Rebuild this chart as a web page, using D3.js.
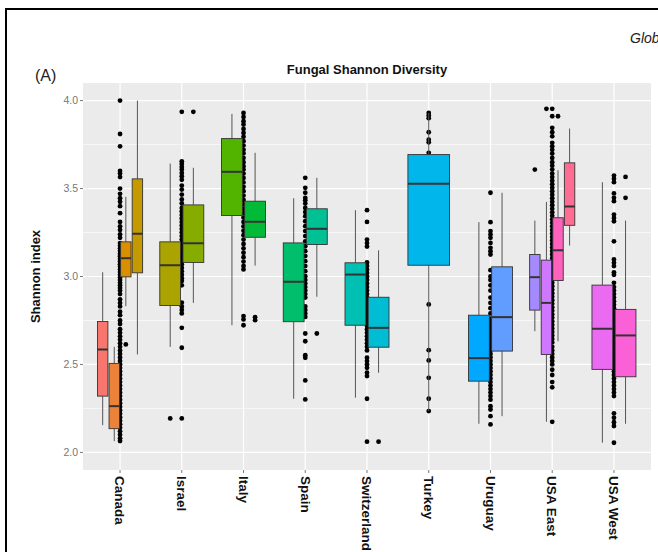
<!DOCTYPE html>
<html>
<head>
<meta charset="utf-8">
<title>Fungal Shannon Diversity</title>
<style>
body { margin: 0; background: #fff; }
svg { display: block; font-family: "Liberation Sans", Arial, sans-serif; }
</style>
</head>
<body>
<script src="https://cdn.jsdelivr.net/npm/d3@7"></script>
<script>

// categories on the x axis
const countries = ["Canada", "Israel", "Italy", "Spain", "Switzerland", "Turkey", "Uruguay", "USA East", "USA West"];
const yTicks = [2.0, 2.5, 3.0, 3.5, 4.0];
const yMinor = [2.25, 2.75, 3.25, 3.75];

// one entry per box: country it sits in, [lower whisker, q1, median, q3, upper whisker], outliers
const boxCountry = ["Canada", "Canada", "Canada", "Canada", "Israel", "Israel", "Italy", "Italy", "Spain", "Spain",
  "Switzerland", "Switzerland", "Turkey", "Uruguay", "Uruguay", "USA East", "USA East", "USA East", "USA East", "USA West", "USA West"];
const boxStats = [
  [2.155, 2.320, 2.585, 2.744, 3.024],
  [2.064, 2.135, 2.263, 2.506, 2.600],
  [2.831, 2.998, 3.104, 3.197, 3.453],
  [2.557, 3.021, 3.243, 3.555, 4.000],
  [2.600, 2.835, 3.064, 3.197, 3.642],
  [2.850, 3.080, 3.189, 3.407, 3.618],
  [2.723, 3.347, 3.595, 3.784, 3.924],
  [3.062, 3.223, 3.311, 3.428, 3.703],
  [2.305, 2.743, 2.970, 3.191, 3.445],
  [2.885, 3.182, 3.271, 3.385, 3.561],
  [2.311, 2.723, 3.011, 3.078, 3.377],
  [2.453, 2.598, 2.708, 2.882, 3.149],
  [2.235, 3.064, 3.527, 3.693, 3.930],
  [2.163, 2.405, 2.536, 2.780, 3.309],
  [2.206, 2.576, 2.769, 3.055, 3.476],
  [2.689, 2.809, 2.996, 3.125, 3.318],
  [2.174, 2.557, 2.850, 3.093, 3.424],
  [2.632, 2.977, 3.149, 3.334, 3.604],
  [3.176, 3.291, 3.398, 3.646, 3.841],
  [2.055, 2.472, 2.703, 2.951, 3.536],
  [2.163, 2.430, 2.665, 2.813, 3.318]
];
const boxOutliers = [
  [], [], [2.614], [],
  [2.193], [3.936],
  [], [2.769, 2.752],
  [], [2.676],
  [], [2.061],
  [],
  [], [],
  [3.608], [3.953], [3.911], [],
  [], [3.566, 3.447]
];

// all samples, plotted at the country position
const canadaPts = [4.00, 3.81, 3.74, 3.60, 3.585, 3.565, 3.50, 3.47, 3.445, 3.425, 3.40, 3.36, 3.31, 3.285, 3.265, 3.24, 3.22,
  3.19, 3.175, 3.16, 3.145, 3.13, 3.115, 3.10, 3.085, 3.07, 3.055, 3.04, 3.025, 3.01, 2.995, 2.98, 2.965, 2.95, 2.935, 2.92,
  2.90, 2.87, 2.85, 2.83, 2.80, 2.78, 2.75, 2.73, 2.70, 2.68, 2.66, 2.64, 2.62, 2.60, 2.58, 2.56, 2.54, 2.52, 2.50, 2.48,
  2.46, 2.44, 2.42, 2.40, 2.38, 2.36, 2.34, 2.32, 2.30, 2.28, 2.26, 2.24, 2.22, 2.20, 2.18, 2.16, 2.14, 2.12, 2.10, 2.08, 2.065];
const israelPts = [3.936, 3.655, 3.64, 3.623, 3.608, 3.589, 3.57, 3.55, 3.517, 3.494, 3.466, 3.438, 3.415, 3.39, 3.37, 3.35,
  3.33, 3.31, 3.29, 3.27, 3.25, 3.23, 3.21, 3.19, 3.17, 3.15, 3.13, 3.11, 3.09, 3.07, 3.05, 3.03, 3.01, 2.99, 2.975, 2.95,
  2.852, 2.83, 2.81, 2.79, 2.708, 2.595, 2.193];
const italyPts = [3.93, 3.907, 3.883, 3.864, 3.839, 3.816, 3.794, 3.769, 3.744, 3.72, 3.70, 3.674, 3.65, 3.627, 3.608, 3.585,
  3.56, 3.535, 3.51, 3.485, 3.46, 3.435, 3.41, 3.385, 3.36, 3.335, 3.31, 3.285, 3.26, 3.235, 3.21, 3.185, 3.16, 3.135, 3.11,
  3.085, 3.06, 3.04, 2.775, 2.756, 2.723];
const spainPts = [3.561, 3.504, 3.476, 3.447, 3.434, 3.415, 3.39, 3.366, 3.343, 3.314, 3.286, 3.258, 3.23, 3.20, 3.172, 3.144,
  3.116, 3.087, 3.059, 3.03, 3.002, 2.98, 2.96, 2.94, 2.92, 2.90, 2.88, 2.83, 2.81, 2.79, 2.77, 2.676, 2.632, 2.553, 2.538,
  2.409, 2.301];
const switzPts = [3.377, 3.31, 3.21, 3.19, 3.17, 3.08, 3.06, 3.04, 3.02, 3.00, 2.98, 2.96, 2.94, 2.92, 2.90, 2.88, 2.86, 2.84,
  2.82, 2.80, 2.78, 2.76, 2.74, 2.72, 2.70, 2.68, 2.66, 2.64, 2.62, 2.60, 2.58, 2.538, 2.519, 2.50, 2.481, 2.453, 2.434,
  2.305, 2.061];
const turkeyPts = [3.93, 3.915, 3.90, 3.82, 3.778, 3.763, 3.703, 2.841, 2.581, 2.523, 2.424, 2.305, 2.235];
const uruguayPts = [3.476, 3.309, 3.258, 3.239, 3.22, 3.191, 3.163, 3.144, 3.125, 3.036, 3.00, 2.98, 2.95, 2.92, 2.88, 2.85,
  2.82, 2.79, 2.76, 2.74, 2.72, 2.70, 2.68, 2.66, 2.64, 2.62, 2.60, 2.58, 2.56, 2.54, 2.52, 2.50, 2.48, 2.46, 2.44, 2.42,
  2.40, 2.38, 2.36, 2.34, 2.32, 2.30, 2.263, 2.244, 2.206, 2.159];
const usaEastPts = [3.953, 3.911, 3.845, 3.82, 3.797, 3.76, 3.74, 3.72, 3.699, 3.674, 3.65, 3.63, 3.608, 3.585, 3.565, 3.545,
  3.525, 3.505, 3.485, 3.465, 3.445, 3.425, 3.405, 3.385, 3.365, 3.345, 3.325, 3.305, 3.285, 3.265, 3.245, 3.225, 3.205,
  3.185, 3.165, 3.145, 3.125, 3.105, 3.085, 3.065, 3.045, 3.025, 3.005, 2.985, 2.965, 2.945, 2.925, 2.905, 2.885, 2.865,
  2.845, 2.825, 2.805, 2.785, 2.765, 2.745, 2.725, 2.705, 2.685, 2.665, 2.645, 2.625, 2.60, 2.58, 2.56, 2.54, 2.52, 2.50,
  2.47, 2.44, 2.40, 2.37, 2.174];
const usaWestPts = [3.574, 3.555, 3.536, 3.472, 3.447, 3.428, 3.352, 3.333, 3.314, 3.20, 3.097, 3.078, 3.059, 3.024, 3.01,
  2.964, 2.94, 2.92, 2.90, 2.88, 2.86, 2.84, 2.82, 2.80, 2.78, 2.76, 2.74, 2.72, 2.70, 2.68, 2.66, 2.64, 2.62, 2.60, 2.58,
  2.56, 2.54, 2.52, 2.50, 2.48, 2.46, 2.44, 2.42, 2.40, 2.38, 2.36, 2.34, 2.32, 2.222, 2.197, 2.172, 2.15, 2.055];
const pointsByCountry = [canadaPts, israelPts, italyPts, spainPts, switzPts, turkeyPts, uruguayPts, usaEastPts, usaWestPts];

// ggplot hue fills, one per box
const boxFill = ["#F8766D", "#EC823A", "#DA8F00", "#C49A00", "#ABA300", "#86AC00", "#53B400", "#00BA38", "#00BE6C",
  "#00C094", "#00C0B4", "#00BDD4", "#00B6EB", "#00A9FF", "#619CFF", "#A58AFF", "#CF78FF", "#FF62BC", "#FF6C93",
  "#EA6AF1", "#FB61D7"];

const width = 658, height = 552;
const panel = { left: 83, right: 651, top: 83, bottom: 470 };

const svg = d3.select("body").append("svg")
  .attr("width", width)
  .attr("height", height);

svg.append("rect").attr("width", width).attr("height", height).attr("fill", "#fff");

// outer frame of the figure page
svg.append("path")
  .attr("d", `M6,${height + 2}V9H${width + 2}`)
  .attr("fill", "none")
  .attr("stroke", "#000")
  .attr("stroke-width", 2);

svg.append("text")
  .attr("x", 630).attr("y", 43)
  .style("font-size", "14px")
  .style("font-style", "italic")
  .attr("fill", "#222")
  .text("Global");

svg.append("text")
  .attr("x", 35).attr("y", 81)
  .style("font-size", "16px")
  .attr("fill", "#222")
  .text("(A)");

const x = d3.scalePoint()
  .domain(countries)
  .range([panel.left, panel.right])
  .padding(0.6);

const y = d3.scaleLinear()
  .domain([1.9, 4.1])
  .range([panel.bottom, panel.top]);

// panel + grid
svg.append("rect")
  .attr("x", panel.left).attr("y", panel.top)
  .attr("width", panel.right - panel.left)
  .attr("height", panel.bottom - panel.top)
  .attr("fill", "#EBEBEB");

svg.append("g").selectAll("line")
  .data(yMinor)
  .join("line")
  .attr("x1", panel.left).attr("x2", panel.right)
  .attr("y1", d => y(d)).attr("y2", d => y(d))
  .attr("stroke", "#fff").attr("stroke-width", 0.6);

svg.append("g").selectAll("line")
  .data(yTicks)
  .join("line")
  .attr("x1", panel.left).attr("x2", panel.right)
  .attr("y1", d => y(d)).attr("y2", d => y(d))
  .attr("stroke", "#fff").attr("stroke-width", 1.2);

svg.append("g").selectAll("line")
  .data(countries)
  .join("line")
  .attr("x1", d => x(d)).attr("x2", d => x(d))
  .attr("y1", panel.top).attr("y2", panel.bottom)
  .attr("stroke", "#fff").attr("stroke-width", 1.2);

// every sample at the country centre (drawn under the boxes)
const pointData = [];
pointsByCountry.forEach((vals, i) => vals.forEach(v => pointData.push({ c: countries[i], v: v })));

svg.append("g").selectAll("circle")
  .data(pointData)
  .join("circle")
  .attr("cx", d => x(d.c))
  .attr("cy", d => y(d.v))
  .attr("r", 2.4)
  .attr("fill", "#000");

// dodge boxes inside each country (like position_dodge2, padding 0.1)
const step = x.step();
const groupTotal = 0.75 * step;
const boxes = boxStats.map((s, i) => {
  const c = boxCountry[i];
  const members = boxCountry.map((cc, j) => cc === c ? j : -1).filter(j => j >= 0);
  const n = members.length, k = members.indexOf(i);
  const slot = groupTotal / n;
  const cx = x(c) - groupTotal / 2 + slot * (k + 0.5);
  return { stats: s, cx: cx, w: slot * 0.9, fill: boxFill[i], out: boxOutliers[i] };
});

const boxG = svg.append("g").selectAll("g")
  .data(boxes)
  .join("g");

boxG.append("line")
  .attr("x1", d => d.cx).attr("x2", d => d.cx)
  .attr("y1", d => y(d.stats[4])).attr("y2", d => y(d.stats[3]))
  .attr("stroke", "#555").attr("stroke-width", 1);

boxG.append("line")
  .attr("x1", d => d.cx).attr("x2", d => d.cx)
  .attr("y1", d => y(d.stats[1])).attr("y2", d => y(d.stats[0]))
  .attr("stroke", "#555").attr("stroke-width", 1);

boxG.append("rect")
  .attr("x", d => d.cx - d.w / 2)
  .attr("width", d => d.w)
  .attr("y", d => y(d.stats[3]))
  .attr("height", d => y(d.stats[1]) - y(d.stats[3]))
  .attr("fill", d => d.fill)
  .attr("stroke", "#333")
  .attr("stroke-width", 0.9);

boxG.append("line")
  .attr("x1", d => d.cx - d.w / 2).attr("x2", d => d.cx + d.w / 2)
  .attr("y1", d => y(d.stats[2])).attr("y2", d => y(d.stats[2]))
  .attr("stroke", "#333").attr("stroke-width", 2);

boxG.selectAll("circle")
  .data(d => d.out.map(v => ({ cx: d.cx, v: v })))
  .join("circle")
  .attr("cx", d => d.cx)
  .attr("cy", d => y(d.v))
  .attr("r", 2.4)
  .attr("fill", "#000");

// axes
const yAxis = svg.append("g");
yAxis.selectAll("line")
  .data(yTicks)
  .join("line")
  .attr("x1", panel.left - 3).attr("x2", panel.left)
  .attr("y1", d => y(d)).attr("y2", d => y(d))
  .attr("stroke", "#777");
yAxis.selectAll("text")
  .data(yTicks)
  .join("text")
  .attr("x", panel.left - 5)
  .attr("y", d => y(d))
  .attr("dy", "0.35em")
  .attr("text-anchor", "end")
  .attr("fill", "#777")
  .style("font-size", "10.5px")
  .text(d => d3.format(".1f")(d));

const xAxis = svg.append("g");
xAxis.selectAll("line")
  .data(countries)
  .join("line")
  .attr("x1", d => x(d)).attr("x2", d => x(d))
  .attr("y1", panel.bottom).attr("y2", panel.bottom + 3)
  .attr("stroke", "#777");
xAxis.selectAll("text")
  .data(countries)
  .join("text")
  .attr("transform", d => `translate(${x(d)},${panel.bottom + 6}) rotate(90)`)
  .attr("dy", "0.35em")
  .attr("fill", "#111")
  .style("font-size", "13.5px")
  .style("font-weight", "bold")
  .text(d => d);

svg.append("text")
  .attr("transform", `translate(40,${(panel.top + panel.bottom) / 2}) rotate(-90)`)
  .attr("text-anchor", "middle")
  .attr("fill", "#111")
  .style("font-size", "13px")
  .style("font-weight", "bold")
  .text("Shannon index");

svg.append("text")
  .attr("x", (panel.left + panel.right) / 2)
  .attr("y", 74)
  .attr("text-anchor", "middle")
  .attr("fill", "#111")
  .style("font-size", "13px")
  .style("font-weight", "bold")
  .text("Fungal Shannon Diversity");

</script>
</body>
</html>
